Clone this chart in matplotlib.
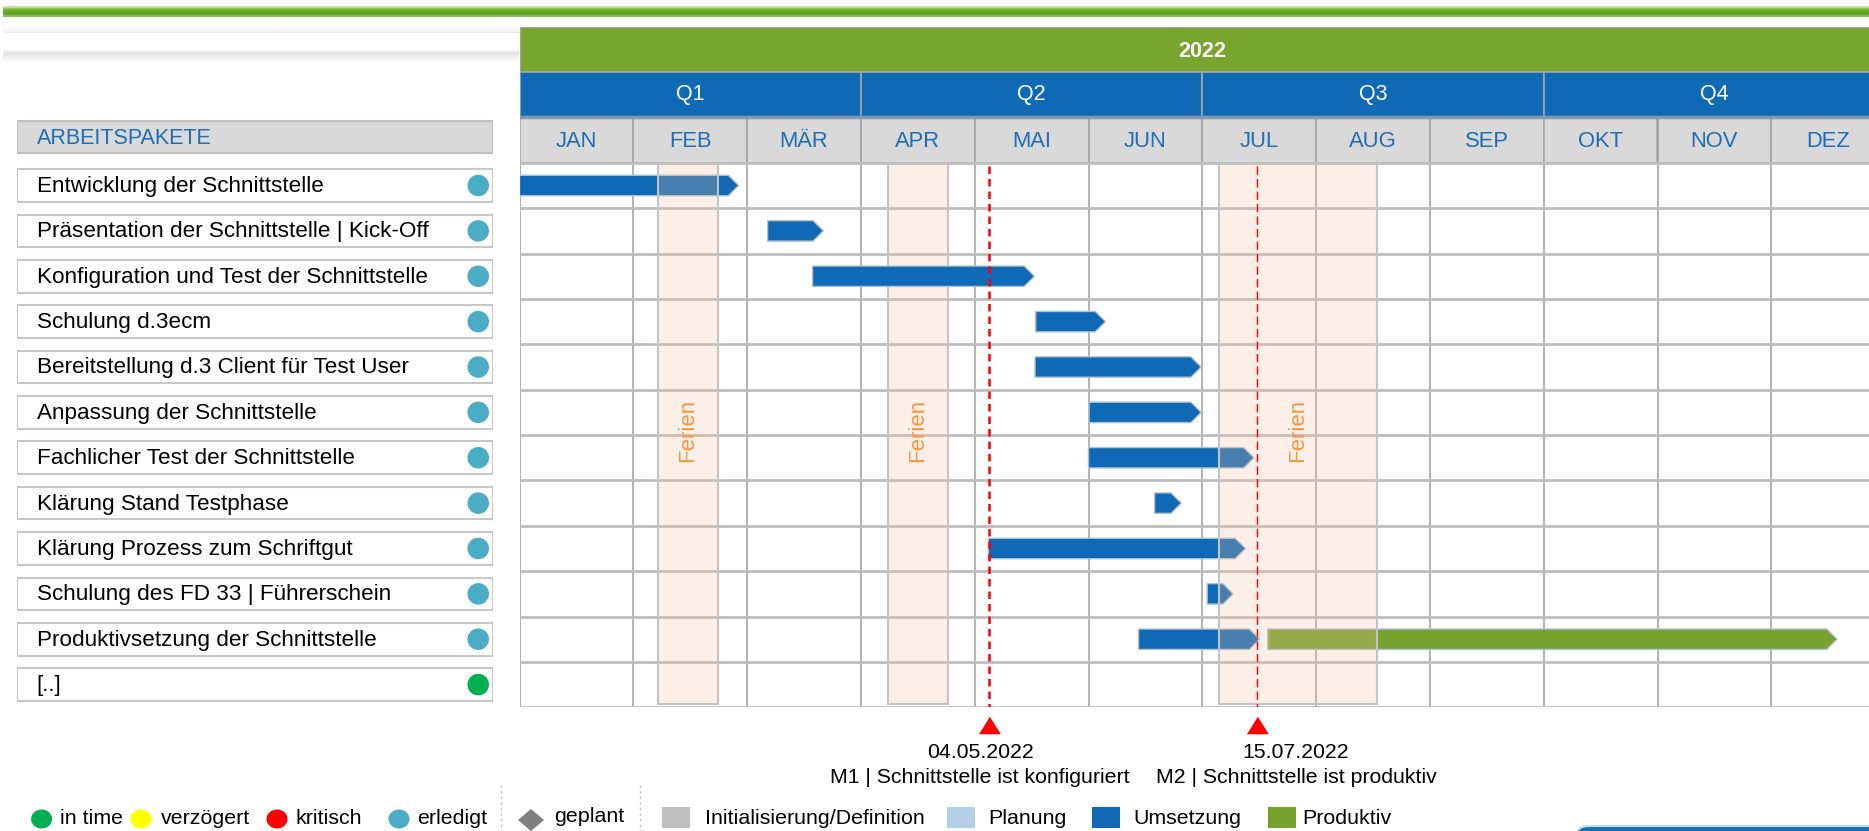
import numpy as np
import matplotlib.pyplot as plt
from matplotlib.patches import Rectangle, Polygon, Ellipse, FancyBboxPatch

plt.rcParams['font.family'] = ['Liberation Sans', 'DejaVu Sans']

# --- data -------------------------------------------------------------
year = '2022'
quarters = ['Q1', 'Q2', 'Q3', 'Q4']
months = ['JAN', 'FEB', 'MÄR', 'APR', 'MAI', 'JUN',
          'JUL', 'AUG', 'SEP', 'OKT', 'NOV', 'DEZ']

tasks = ['Entwicklung der Schnittstelle',
         'Präsentation der Schnittstelle | Kick-Off',
         'Konfiguration und Test der Schnittstelle',
         'Schulung d.3ecm',
         'Bereitstellung d.3 Client für Test User',
         'Anpassung der Schnittstelle',
         'Fachlicher Test der Schnittstelle',
         'Klärung Stand Testphase',
         'Klärung Prozess zum Schriftgut',
         'Schulung des FD 33 | Führerschein',
         'Produktivsetzung der Schnittstelle',
         '[..]']
task_status = ['erledigt'] * 11 + ['in time']

# bars in month units (0 = 1 Jan, 12 = end of Dec)
bar_row = [0, 1, 2, 3, 4, 5, 6, 7, 8, 9, 10, 10]
bar_start = [0.0, 2.18, 2.575, 4.536, 4.53, 5.005, 5.0, 5.581, 4.12, 6.043, 5.44, 6.575]
bar_end = [1.925, 2.67, 4.525, 5.149, 5.99, 5.99, 6.454, 5.815, 6.38, 6.271, 6.504, 11.577]
bar_phase = ['Umsetzung'] * 11 + ['Produktiv']

ferien_start = [1.214, 3.234, 6.146]
ferien_end = [1.747, 3.764, 7.531]
ferien_on_top = [True, False, True]

ms_dates = ['04.05.2022', '15.07.2022']
ms_names = ['M1 | Schnittstelle ist konfiguriert', 'M2 | Schnittstelle ist produktiv']

status_names = ['in time', 'verzögert', 'kritisch', 'erledigt']
status_colors = ['#00B050', '#FFFF00', '#FF0000', '#4BACC6']
phase_names = ['Initialisierung/Definition', 'Planung', 'Umsetzung', 'Produktiv']
phase_colors = ['#BFBFBF', '#B4D0E7', '#0F69B4', '#77A22D']

status_col = dict(zip(status_names, status_colors))
phase_col = dict(zip(phase_names, phase_colors))

BLUE_TXT = '#1F6DB5'
GRID = '#A6A6A6'

# --- figure -----------------------------------------------------------
W, H = 1869, 831
fig = plt.figure(figsize=(W / 100, H / 100), dpi=100)

deco = fig.add_axes([0, 0, 1, 1], zorder=0)
deco.axis('off')

# green top line with soft gradient
g = np.array([[0.80, 0.90, 0.65], [0.45, 0.72, 0.20], [0.41, 0.67, 0.14],
              [0.38, 0.63, 0.12], [0.55, 0.76, 0.35]])[:, None, :]
deco.imshow(g, extent=(3, W, 17, 6), aspect='auto', origin='upper',
            interpolation='bilinear')
# faint shadows below it
sh = np.zeros((12, 1, 4))
sh[..., :3] = 0.6
sh[:, 0, 3] = np.linspace(0.0, 0.18, 12) * np.linspace(1, 0.2, 12)[::-1]
deco.imshow(sh, extent=(3, W, 33, 24), aspect='auto', origin='upper',
            interpolation='bilinear')
sh2 = np.zeros((14, 1, 4))
sh2[..., :3] = 0.6
sh2[:, 0, 3] = np.concatenate([np.linspace(0.0, 0.25, 5), np.linspace(0.25, 0.0, 9)])
deco.imshow(sh2, extent=(3, 519, 63, 48), aspect='auto', origin='upper',
            interpolation='bilinear')
deco.set_xlim(0, W)
deco.set_ylim(H, 0)

# --- main gantt axes ---------------------------------------------------
top_px, bot_px = 26.7, 707.3
left_px, mw = 519.5, 113.8
ax = fig.add_axes([left_px / W, (H - bot_px) / H, 12 * mw / W, (bot_px - top_px) / H], zorder=1)
ax.set_xlim(0, 12)
ax.set_ylim(12, -3)
ax.axis('off')

# header rows
ax.add_patch(Rectangle((0, -3), 12, 1, fc='#77A52D', ec=GRID, lw=1.5))
ax.text(6, -2.46, year, color='white', fontsize=15.5, fontweight='bold',
        ha='center', va='center')
for i, q in enumerate(quarters):
    ax.add_patch(Rectangle((3 * i, -2), 3, 1, fc='#0F69B4', ec=GRID, lw=1.2))
    ax.text(3 * i + 1.5, -1.5, q, color='white', fontsize=15.5, ha='center', va='center')
for i, m in enumerate(months):
    ax.add_patch(Rectangle((i, -1), 1, 1, fc='#D9D9D9', ec=GRID, lw=1.2))
    ax.text(i + 0.5, -0.48, m, color=BLUE_TXT, fontsize=15.8, ha='center', va='center')
ax.plot([0, 12], [-1, -1], color='#8497B0', lw=2.5)

# grid
ax.vlines(np.arange(13), 0, 12, color=GRID, lw=1.2, zorder=1)
ax.hlines(np.arange(13), 0, 12, color='#BDBDBD', lw=2, zorder=1)

# bars (chevrons)
bh = 0.45
tip = 0.09
for r, s, e, p in zip(bar_row, bar_start, bar_end, bar_phase):
    y = r + 0.5
    verts = [(s, y - bh / 2), (e - tip, y - bh / 2), (e, y),
             (e - tip, y + bh / 2), (s, y + bh / 2)]
    ax.add_patch(Polygon(verts, closed=True, fc=phase_col[p], ec='#AFC0CF',
                         lw=1, zorder=2))

# holiday bands
for s, e, top in zip(ferien_start, ferien_end, ferien_on_top):
    ax.add_patch(Rectangle((s, 0.03), e - s, 11.9, fc=(247 / 255, 195 / 255, 163 / 255, 0.25),
                           ec='#C4C4C4', lw=1.5, zorder=3 if top else 1.5))
    ax.text((s + e) / 2, 5.9, 'Ferien', rotation=90, color='#F79646', fontsize=16,
            ha='center', va='center', zorder=4)

# milestones
days_in_month = [31, 28, 31, 30, 31, 30, 31, 31, 30, 31, 30, 31]
ms_styles = [dict(lw=1.8, dashes=(3, 2)), dict(lw=1.0, dashes=(6, 3))]
label_shift = [-0.08, 0.34]
tri = [(-10, -8), (10, -8), (0, 8)]
for d, name, st, sh_x in zip(ms_dates, ms_names, ms_styles, label_shift):
    dd, mm, _ = (int(v) for v in d.split('.'))
    x = (mm - 1) + dd / days_in_month[mm - 1]
    ax.plot([x, x], [0.07, 12.22], color='#FF0000', zorder=5, **st)
    ax.plot([x], [12.385], marker=tri, ms=14.5, color='#FF0000', ls='none',
            clip_on=False, zorder=5)
    ax.text(x + sh_x, 12.99, d, fontsize=15.3, ha='center', va='center', clip_on=False)
    ax.text(x + sh_x, 13.55, name, fontsize=15.3, ha='center', va='center', clip_on=False)

# --- left task list ---------------------------------------------------
axl = fig.add_axes([17 / W, (H - bot_px) / H, 476 / W, (bot_px - top_px) / H], zorder=1)
axl.set_xlim(0, 1)
axl.set_ylim(12, -3)
axl.axis('off')
axl.add_patch(Rectangle((0, -0.93), 1, 0.72, fc='#D9D9D9', ec='#C0C0C0', lw=1.5))
axl.text(0.041, -0.53, 'ARBEITSPAKETE', color=BLUE_TXT, fontsize=15.5, va='center')
for i, (t, s) in enumerate(zip(tasks, task_status)):
    axl.add_patch(Rectangle((0, i + 0.14), 1, 0.72, fc='white', ec='#C8C8C8', lw=1.5))
    axl.text(0.041, i + 0.52, t, fontsize=16.2, va='center', color='black')
axl.scatter([0.969] * len(tasks), np.arange(len(tasks)) + 0.5,
            c=[status_col[s] for s in task_status], s=240, linewidths=0, zorder=3)

# --- legend row --------------------------------------------------------
ly = 818
st_x = [41.6, 141, 277, 399]
st_tx = [60.3, 160.7, 295.6, 417]
for n, c, cx, tx in zip(status_names, status_colors, st_x, st_tx):
    deco.add_patch(Ellipse((cx, ly + 1), 21, 19, fc=c, ec='none'))
    deco.text(tx, ly, n, fontsize=15.4, va='center')
for sx in [500.6, 640]:
    deco.plot([sx, sx], [785, 831], color='#C8C8C8', lw=1, ls=(0, (2, 2)))
deco.add_patch(Polygon([(518, ly + 2), (531, ly - 9), (544, ly + 2), (531, ly + 13)],
                       fc='#7F7F7F', ec='none'))
deco.text(554, ly - 2, 'geplant', fontsize=15.4, va='center')
ph_x = [676, 961, 1105.6, 1282]
ph_tx = [705, 988, 1133, 1302]
for n, c, cx, tx in zip(phase_names, phase_colors, ph_x, ph_tx):
    deco.add_patch(Rectangle((cx - 14, ly - 11), 28, 21, fc=c, ec='none'))
    deco.text(tx, ly, n, fontsize=15.4, va='center')

# partly visible element at the bottom right
deco.add_patch(FancyBboxPatch((1576, 826), 330, 30, boxstyle='round,pad=0,rounding_size=12',
                              fc='#1A6DB3', ec='#BFE0F5', lw=1.5, clip_on=True))

fig.savefig('out.png', dpi=100)
